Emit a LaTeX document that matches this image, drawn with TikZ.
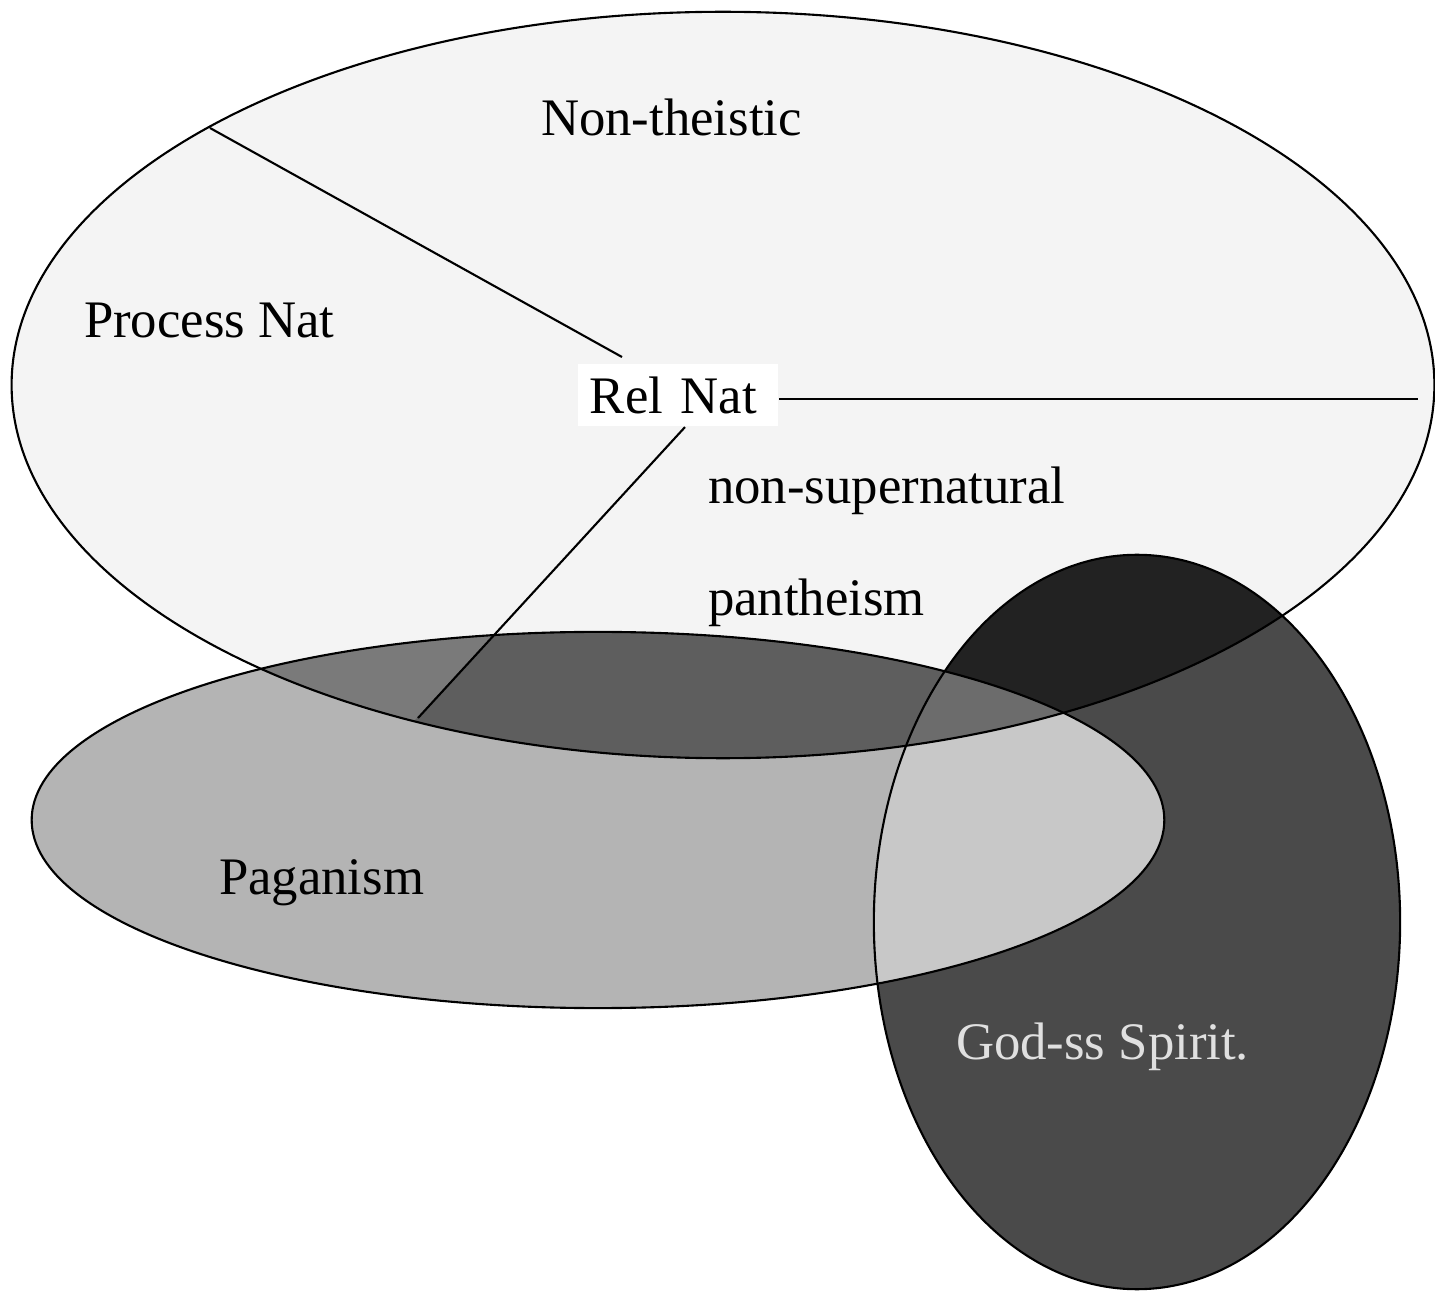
\documentclass[tikz,border=0pt]{standalone}
\usepackage{fontspec}
\setmainfont{Liberation Serif}
\usetikzlibrary{positioning}

\definecolor{nontheist}{HTML}{F4F4F4}
\definecolor{pagan}{HTML}{B4B4B4}
\definecolor{goddess}{HTML}{4A4A4A}
\definecolor{relnatA}{HTML}{7A7A7A}
\definecolor{relnatB}{HTML}{5E5E5E}
\definecolor{spiritnat}{HTML}{222222}
\definecolor{spiritpagan}{HTML}{C8C8C8}
\definecolor{spiritall}{HTML}{6C6C6C}

\tikzset{
  tag/.style={anchor=base west, inner sep=0pt, font=\fontsize{15}{18}\selectfont},
  box/.style={fill=white, inner xsep=0.12cm, inner ysep=0pt, text width=1.76cm,
    align=left, minimum height=0.62cm, font=\fontsize{15}{18}\selectfont}
}

\def\bigE{(C0) ellipse [x radius=7.11cm, y radius=3.73cm]}
\def\pagE{(C1) ellipse [x radius=5.66cm, y radius=1.88cm]}
\def\godE{(C2) ellipse [x radius=2.63cm, y radius=3.67cm]}

\begin{document}
\begin{tikzpicture}[x=0.01cm, y=-0.01cm, line width=0.6pt]
    \useasboundingbox (0,0) rectangle (1435,1291);
    \coordinate (C0) at (723,385);
    \coordinate (C1) at (598,820);
    \coordinate (C2) at (1137,922);

    % the three sets
    \fill[nontheist] \bigE;
    \fill[pagan] \pagE;
    \fill[goddess] \godE;

    % overlaps
    \begin{scope}
      \clip \bigE;
      \fill[relnatB] \pagE;
      \clip (685,425) -- (284,863) -- (0,863) -- (0,425) -- cycle;
      \fill[relnatA] \pagE;
    \end{scope}
    \begin{scope}
      \clip \bigE;
      \fill[spiritnat] \godE;
    \end{scope}
    \begin{scope}
      \clip \pagE;
      \fill[spiritpagan] \godE;
    \end{scope}
    \begin{scope}
      \clip \bigE;
      \clip \pagE;
      \fill[spiritall] \godE;
    \end{scope}

    \draw \bigE;
    \draw \pagE;
    \draw \godE;

    \node[box] (relnat) at (678,395) {Rel Nat};

    \coordinate (pnEdge) at (210,128);
    \coordinate (pnEnd) at (622,357);
    \coordinate (paganEdge) at (418,718);
    \coordinate (rimEnd) at (1418,399);

    \draw (pnEdge) -- (pnEnd);
    \draw ([xshift=0.07cm]relnat.south) -- (paganEdge);
    \draw (relnat.east |- rimEnd) -- (rimEnd);

    \node[tag] (nontheistic) at (540,136) {Non-theistic};
    \node[tag] (process) at (83,338) {Process Nat};
    \node[tag] (nonsuper) at (707,504) {non-supernatural};
    \node[tag] (panth) at (707,616) {pantheism};
    \node[tag] (paganism) at (218,895) {Paganism};
    \node[tag, text=black!12] (spirit) at (955,1060) {God-ss Spirit.};
  \end{tikzpicture}
\end{document}
